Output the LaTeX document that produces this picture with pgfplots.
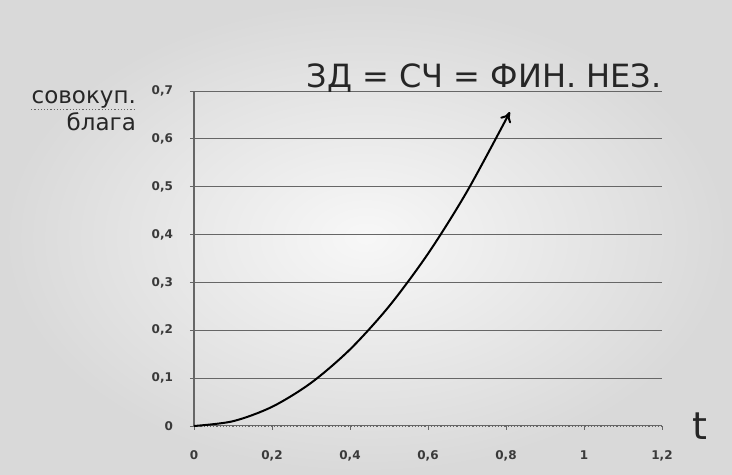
\documentclass[border=0pt]{standalone}
\usepackage{fontspec}
\setmainfont{DejaVu Sans}
\usepackage{pgfplots}
\pgfplotsset{compat=1.18}
\usetikzlibrary{arrows.meta}
\definecolor{gridgray}{HTML}{666666}
\definecolor{tickgray}{HTML}{3A3A3A}
\begin{document}
\begin{tikzpicture}
% background (1px of the reference = 0.5pt)
\shade[inner color=gray!6, outer color=gray!30] (-97pt,-24.5pt) rectangle (269pt,213pt);
\begin{axis}[
    at={(0pt,0pt)}, anchor=south west,
    scale only axis,
    width=234pt, height=167.5pt,
    xmin=0, xmax=1.2,
    ymin=0, ymax=0.7,
    xtick={0,0.2,0.4,0.6,0.8,1,1.2},
    ytick={0,0.1,0.2,0.3,0.4,0.5,0.6,0.7},
    /pgf/number format/use comma,
    /pgf/number format/assume math mode=true,
    tick label style={font=\fontsize{6}{7}\selectfont\bfseries, text=tickgray},
    xticklabel style={yshift=-7pt},
    yticklabel style={xshift=-5pt},
    axis x line=bottom, axis y line=left,
    axis line style={-, gridgray, line width=0.6pt},
    x axis line style={densely dotted},
    tick style={gridgray, line width=0.4pt},
    major tick length=2pt,
    tick align=outside,
    ymajorgrids=true,
    grid style={gridgray, line width=0.5pt},
    clip=false,
]
\addplot[black, line width=1pt, smooth, -{To[length=5pt,width=6pt]}] coordinates {
    (0,0) (0.1,0.01) (0.2,0.04) (0.3,0.09) (0.4,0.16)
    (0.5,0.25) (0.6,0.36) (0.7,0.49) (0.81,0.656)
};
\node[anchor=base east, font=\fontsize{16}{19}\selectfont, inner sep=0pt, text=black!85]
    at (axis cs:1.2,0.708) {ЗД = СЧ = ФИН. НЕЗ.};
\node[anchor=base east, font=\fontsize{11.5}{13}\selectfont, inner sep=0pt, text=black!85]
    (s) at (axis cs:-0.148,0.674) {совокуп.};
\draw[gridgray, densely dotted, line width=0.6pt] ([yshift=-0.5pt]s.south west) -- ([yshift=-0.5pt]s.south east);
\node[anchor=base east, font=\fontsize{11.5}{13}\selectfont, inner sep=0pt, text=black!85]
    at (axis cs:-0.148,0.618) {блага};
\node[font=\fontsize{19}{22}\selectfont, inner sep=0pt, text=black!85]
    at (axis cs:1.297,0.0) {t};
\end{axis}
\end{tikzpicture}
\end{document}
